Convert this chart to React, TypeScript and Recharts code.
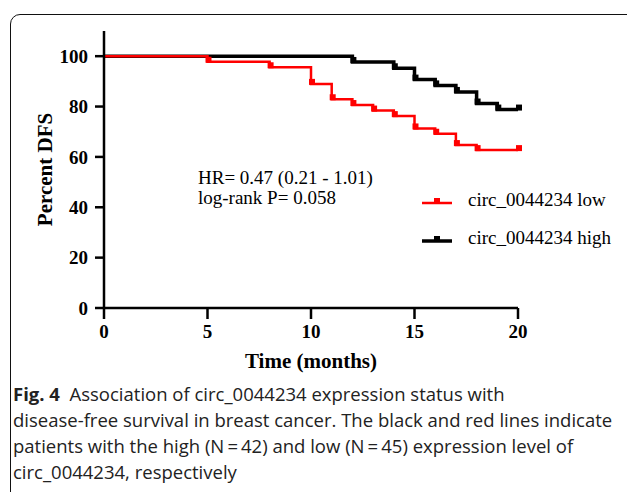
import { Line, LineChart, XAxis, YAxis } from "recharts";

// Kaplan-Meier style DFS curves
const lowMonths = [0, 5, 8, 10, 11, 12, 13, 14, 15, 16, 17, 18, 20];
const lowPercent = [100, 97.8, 95.6, 89, 82.9, 80.6, 78.4, 76.2, 71.3, 69.2, 64.7, 62.7, 62.7];
const highMonths = [0, 12, 14, 15, 16, 17, 18, 19, 20];
const highPercent = [100, 97.7, 95.2, 90.7, 88.4, 85.8, 81.2, 78.8, 78.8];
const xTicks = [0, 5, 10, 15, 20];
const yTicks = [0, 20, 40, 60, 80, 100];

const lowData = lowMonths.map((x, i) => ({ x, y: lowPercent[i] }));
const highData = highMonths.map((x, i) => ({ x, y: highPercent[i] }));

const serif = '"Liberation Serif", "Times New Roman", serif';
const RED = "#ff0000";

const tickStyle = { fontFamily: serif, fontWeight: 700, fontSize: 19, fill: "#000" };

// censor mark: small square sitting on the step
function censorDot(color: string) {
	return (props: any) => {
		const { cx, cy, index } = props;
		if (index === 0 || cx == null) return <g key={`d-${index}`} />;
		return <rect key={`d-${index}`} x={cx - 2} y={cy - 5} width={6} height={6} fill={color} />;
	};
}

// legend sits inside the plot, GraphPad style
function LegendBox() {
	const rows = [
		{ label: "circ_0044234 low", color: RED },
		{ label: "circ_0044234 high", color: "#000" },
	];
	return (
		<div style={{ position: "absolute", left: 422, top: 181 }}>
			{rows.map((r) => (
				<div key={r.label} style={{ display: "flex", alignItems: "center", height: 38 }}>
					<svg width={46} height={14}>
						<line x1={0} y1={10} x2={30} y2={10} stroke={r.color} strokeWidth={r.color === RED ? 2.5 : 3.5} />
						<rect x={12} y={5} width={6} height={5} fill={r.color} />
					</svg>
					<span style={{ fontFamily: serif, fontSize: 19, color: "#000", lineHeight: "20px", whiteSpace: "nowrap" }}>
						{r.label}
					</span>
				</div>
			))}
		</div>
	);
}

export default function App() {
	return (
		<div style={{ position: "absolute", left: 0, top: 0, width: 627, height: 492, overflow: "hidden", background: "#fff" }}>
			{/* figure frame, rounded corner top-left, runs off the right edge */}
			<div
				style={{
					position: "absolute",
					left: 10,
					top: 14,
					width: 700,
					height: 600,
					border: "1.5px solid #111",
					borderRadius: 10,
				}}
			/>
			<div style={{ position: "absolute", left: 0, top: 0 }}>
				<LineChart width={627} height={380} margin={{ top: 31, right: 109, left: 0, bottom: 0 }}>
					<XAxis
						type="number"
						dataKey="x"
						domain={[0, 20]}
						ticks={xTicks}
						height={72}
						stroke="#000"
						strokeWidth={2.5}
						tickSize={11}
						tickMargin={6}
						tick={tickStyle}
						tickLine={{ stroke: "#000", strokeWidth: 2.5 }}
						label={{
							value: "Time (months)",
							position: "insideBottom",
							offset: 12,
							style: { fontFamily: serif, fontWeight: 700, fontSize: 21, fill: "#000" },
						}}
					/>
					<YAxis
						type="number"
						dataKey="y"
						domain={[0, 110]}
						ticks={yTicks}
						width={104}
						stroke="#000"
						strokeWidth={2.5}
						tickSize={9}
						tickMargin={7}
						tick={tickStyle}
						tickLine={{ stroke: "#000", strokeWidth: 2.5 }}
						label={{
							value: "Percent DFS",
							angle: -90,
							position: "insideLeft",
							offset: 45,
							style: { fontFamily: serif, fontWeight: 700, fontSize: 21, fill: "#000", textAnchor: "middle" },
						}}
					/>
					<Line
						data={highData}
						dataKey="y"
						type="stepAfter"
						stroke="#000"
						strokeWidth={3.5}
						dot={censorDot("#000")}
						activeDot={false}
						isAnimationActive={false}
					/>
					<Line
						data={lowData}
						dataKey="y"
						type="stepAfter"
						stroke={RED}
						strokeWidth={2.5}
						dot={censorDot(RED)}
						activeDot={false}
						isAnimationActive={false}
					/>
				</LineChart>
			</div>
			<LegendBox />
			<div
				style={{
					position: "absolute",
					left: 198,
					top: 168,
					fontFamily: serif,
					fontSize: 19,
					lineHeight: "20px",
					color: "#000",
					whiteSpace: "nowrap",
				}}
			>
				HR= 0.47 (0.21 - 1.01)
				<br />
				log-rank P= 0.058
			</div>
			<div
				style={{
					position: "absolute",
					left: 13,
					top: 381,
					fontFamily: '"Open Sans", sans-serif',
					fontSize: 18.5,
					lineHeight: "26px",
					color: "#222",
					whiteSpace: "nowrap",
				}}
			>
				<b style={{ fontWeight: 700 }}>Fig. 4</b>&nbsp;&nbsp;Association of circ_0044234 expression status with
				<br />
				disease-free survival in breast cancer. The black and red lines indicate
				<br />
				patients with the high (N{"\u2009"}={"\u2009"}42) and low (N{"\u2009"}={"\u2009"}45) expression level of
				<br />
				circ_0044234, respectively
			</div>
		</div>
	);
}
